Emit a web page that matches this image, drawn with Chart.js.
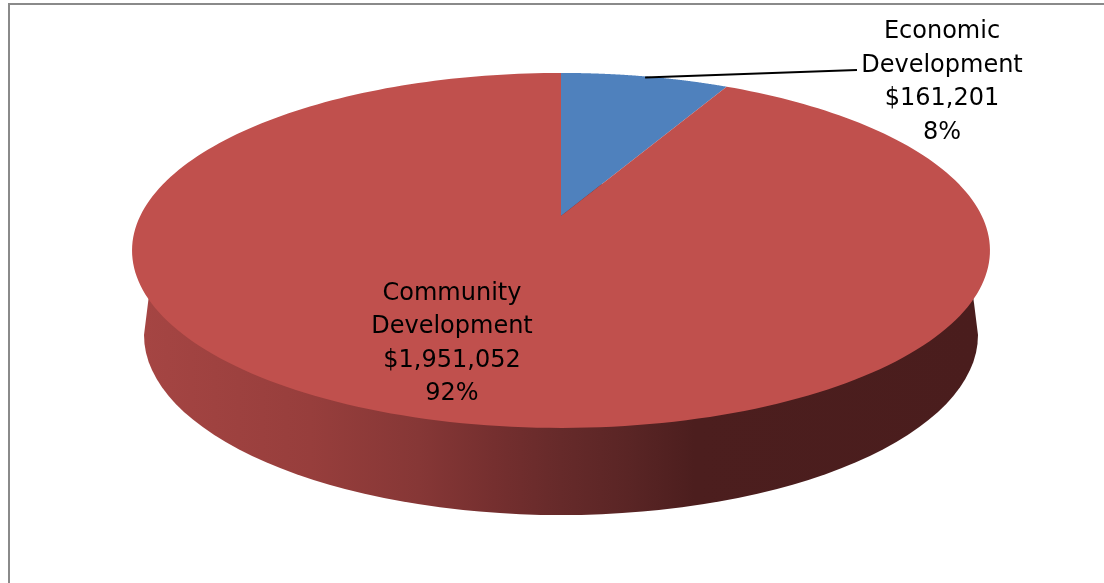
<!DOCTYPE html>
<html>
<head>
<meta charset="utf-8">
<style>
    html, body { margin: 0; padding: 0; background: #fff; overflow: hidden; }
    #frame { position: absolute; left: 8px; top: 3px; width: 1200px; height: 700px; border-left: 2px solid #8a8a8a; border-top: 2px solid #8a8a8a; }
    #budget-pie { position: absolute; left: 0; top: 0; }
</style>
</head>
<body>
<div id="frame"></div>
<canvas id="budget-pie" width="1104" height="583"></canvas>
<script src="https://cdn.jsdelivr.net/npm/chart.js@4"></script>
<script>
const categories = ["Economic Development", "Community Development"]
const amounts = [161201, 1951052]
const sliceColors = ["#4F81BD", "#C0504D"]

// Perspective of the tilted disc, all relative to the arc that Chart.js lays out
const tilt = { stretchX: 1.4436, stretchY: 0.586, bend: -0.194, liftY: -75.5 }
const wallBase = { rx: 417, ry: 180, dropY: 43.5 }
const wallShades = [
    [0, "#A54543"], [0.2, "#973E3C"], [0.33, "#863736"], [0.42, "#752F2F"],
    [0.5, "#662A2A"], [0.58, "#5A2525"], [0.66, "#4C1E1E"], [1, "#4A1D1D"]
]

const labelFont = "24px 'DejaVu Sans'"
const lineStep = 33.5
// Where the first text line of each label sits
const labelSpots = [{ x: 942, y: 32 }, { x: 452, y: 293.5 }]

// Takes an angle on the pie and returns where it lands on the tilted disc
const project = (arc, angle, r = 1) => {
    const u = Math.cos(angle) * r
    const v = Math.sin(angle) * r
    const d = 1 + tilt.bend * v
    return {
        x: arc.x + arc.outerRadius * tilt.stretchX * u / d,
        y: arc.y + tilt.liftY + arc.outerRadius * tilt.stretchY * v / d
    }
}

const drawWall = (ctx, arc) => {
    const left = project(arc, Math.PI + 0.194)
    const right = project(arc, -0.194)
    const cy = arc.y + wallBase.dropY
    const shade = ctx.createLinearGradient(arc.x - wallBase.rx, 0, arc.x + wallBase.rx, 0)
    wallShades.forEach((s) => shade.addColorStop(s[0], s[1]))

    ctx.beginPath()
    ctx.ellipse(arc.x, cy, wallBase.rx, wallBase.ry, 0, Math.PI, 0, true)
    ctx.lineTo(right.x, right.y)
    ctx.lineTo(left.x, left.y)
    ctx.closePath()
    ctx.fillStyle = shade
    ctx.fill()
}

const drawSlice = (ctx, arc, color) => {
    const steps = 240
    const tip = project(arc, 0, 0)
    ctx.beginPath()
    ctx.moveTo(tip.x, tip.y)
    for (let i = 0; i <= steps; i++) {
        const a = arc.startAngle + (arc.endAngle - arc.startAngle) * i / steps
        const p = project(arc, a)
        ctx.lineTo(p.x, p.y)
    }
    ctx.closePath()
    ctx.fillStyle = color
    ctx.fill()
}

// Chart.js only draws round pies, so its arcs are redrawn here on the tilted disc
const tiltedPie = {
    id: "tiltedPie",
    beforeDatasetDraw(chart, args) {
        const ctx = chart.ctx
        const arcs = args.meta.data
        ctx.save()
        drawWall(ctx, arcs[0])
        arcs.forEach((arc, i) => drawSlice(ctx, arc, sliceColors[i]))
        ctx.restore()
        return false
    },
    afterDraw(chart) {
        const ctx = chart.ctx
        const arcs = chart.getDatasetMeta(0).data
        const total = amounts.reduce((a, b) => a + b, 0)
        ctx.save()

        // Leader line of the small slice
        const mid = project(arcs[0], (arcs[0].startAngle + arcs[0].endAngle) / 2)
        ctx.strokeStyle = "#000"
        ctx.lineWidth = 2
        ctx.beginPath()
        ctx.moveTo(mid.x, mid.y + 1)
        ctx.lineTo(857, 70)
        ctx.stroke()

        ctx.font = labelFont
        ctx.fillStyle = "#000"
        ctx.textAlign = "center"
        ctx.textBaseline = "middle"
        categories.forEach((name, i) => {
            const lines = [
                ...name.split(" "),
                "$" + amounts[i].toLocaleString("en-US"),
                Math.round(amounts[i] / total * 100) + "%"
            ]
            lines.forEach((text, n) => ctx.fillText(text, labelSpots[i].x, labelSpots[i].y + n * lineStep))
        })
        ctx.restore()
    }
}

new Chart(document.getElementById("budget-pie"), {
    type: "pie",
    data: {
        labels: categories,
        datasets: [{ data: amounts, backgroundColor: sliceColors, borderWidth: 0 }]
    },
    options: {
        responsive: false,
        animation: false,
        devicePixelRatio: 1,
        layout: { padding: { left: 18 } },
        plugins: { legend: { display: false }, tooltip: { enabled: false } }
    },
    plugins: [tiltedPie]
})
</script>
</body>
</html>
